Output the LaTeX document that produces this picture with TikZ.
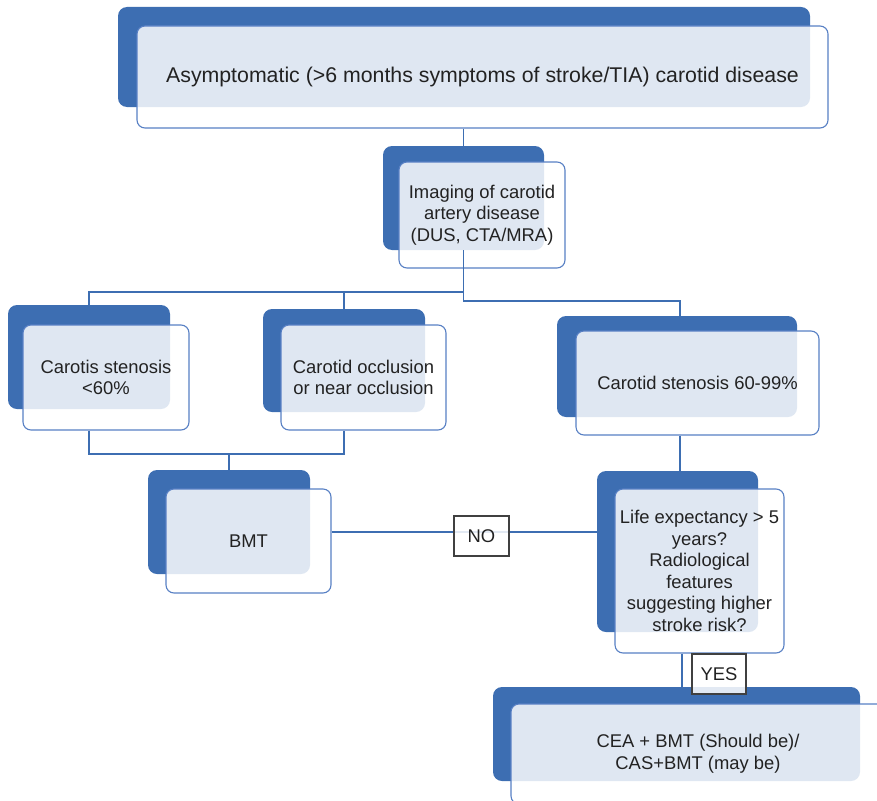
\documentclass[tikz,border=0pt]{standalone}
\usepackage{fontspec}
\setmainfont{Liberation Sans}
\definecolor{dblue}{RGB}{61,110,178}
\definecolor{lblue}{RGB}{88,128,196}
\definecolor{txt}{RGB}{34,34,34}
\begin{document}
\begin{tikzpicture}[x=1pt,y=-1pt,
  back/.style={rectangle,rounded corners=9pt,fill=dblue,draw=none,inner sep=0pt},
  front/.style={rectangle,rounded corners=8pt,fill=white,fill opacity=0.84,text opacity=1,draw=lblue,line width=1.1pt,inner sep=0pt,align=center,text=txt,font=\fontsize{18.4}{21.6}\selectfont},
  conn/.style={draw=dblue,line width=1.3pt},
  lab/.style={rectangle,fill=white,fill opacity=0.85,text opacity=1,draw=black!75,line width=1.1pt,inner sep=0pt,text=txt,font=\fontsize{18.4}{21.6}\selectfont}]
\useasboundingbox (0,0) rectangle (877,800);
\clip (0,0) rectangle (877,800);
% back boxes
\node[back,minimum width=692pt,minimum height=100pt] (b1) at (464,57) {};
\node[back,minimum width=161pt,minimum height=104pt] (b2) at (463.5,198) {};
\node[back,minimum width=162pt,minimum height=104pt] (b3) at (89,357) {};
\node[back,minimum width=162pt,minimum height=103pt] (b4) at (344,360.5) {};
\node[back,minimum width=240pt,minimum height=101pt] (b5) at (677,366.5) {};
\node[back,minimum width=162pt,minimum height=104pt] (b6) at (229,522) {};
\node[back,minimum width=161pt,minimum height=161pt] (b7) at (677.5,551.5) {};
\node[back,minimum width=367pt,minimum height=94pt] (b8) at (676.5,734) {};
% front boxes
\node[front,minimum width=691pt,minimum height=102pt,font=\fontsize{21.3}{25}\selectfont] (f1) at (482.5,77) {Asymptomatic (>6 months symptoms of stroke/TIA) carotid disease};
\node[front,minimum width=166pt,minimum height=106pt] (f2) at (482,215) {Imaging of carotid\\artery disease\\(DUS, CTA/MRA)};
\node[front,minimum width=166pt,minimum height=105pt] (f3) at (106,377.5) {Carotis stenosis\\<60\%};
\node[front,minimum width=165pt,minimum height=105pt] (f4) at (363.5,377.5) {Carotid occlusion\\or near occlusion};
\node[front,minimum width=243pt,minimum height=104pt] (f5) at (697.5,383) {Carotid stenosis 60-99\%};
\node[front,minimum width=165pt,minimum height=104pt] (f6) at (248.5,541) {BMT};
\node[front,minimum width=169pt,minimum height=164pt] (f7) at (699.5,571) {Life expectancy > 5\\years?\\Radiological\\features\\suggesting higher\\stroke risk?};
\node[front,minimum width=374pt,minimum height=100pt] (f8) at (698,754) {CEA + BMT (Should be)/\\CAS+BMT (may be)};
% junctions
\coordinate (jA) at (463.5,292);
\coordinate (jB) at (463.5,301);
\coordinate (jC) at (680,301);
\coordinate (jD) at (229,454);
\coordinate (jE) at (482,532);
\coordinate (jF) at (682,670);
% connectors
\draw[conn] (f1.south -| jA) -- (b2.north -| jA);
\draw[conn] (b2.south -| jA) -- (jB) -- (jC) -- (b5.north -| jC);
\draw[conn] (b3.north) -- (b3.north |- jA) -- (jA);
\draw[conn] (jA -| b4.north) -- (b4.north);
\draw[conn] (b3 |- f3.south) -- (b3 |- jD) -- (b4 |- jD) -- (b4 |- f4.south);
\draw[conn] (jD) -- (b6.north);
\draw[conn] (f5.south -| jC) -- (b7.north -| jC);
\draw[conn] (f6.east |- jE) -- (b7.west |- jE);
\draw[conn] (f7.south -| jF) -- (b8.north -| jF);
% labels
\node[lab,minimum width=55pt,minimum height=40pt] (no) at (481.5,536) {NO};
\node[lab,minimum width=54pt,minimum height=40pt] (yes) at (719,674) {YES};
\end{tikzpicture}
\end{document}
